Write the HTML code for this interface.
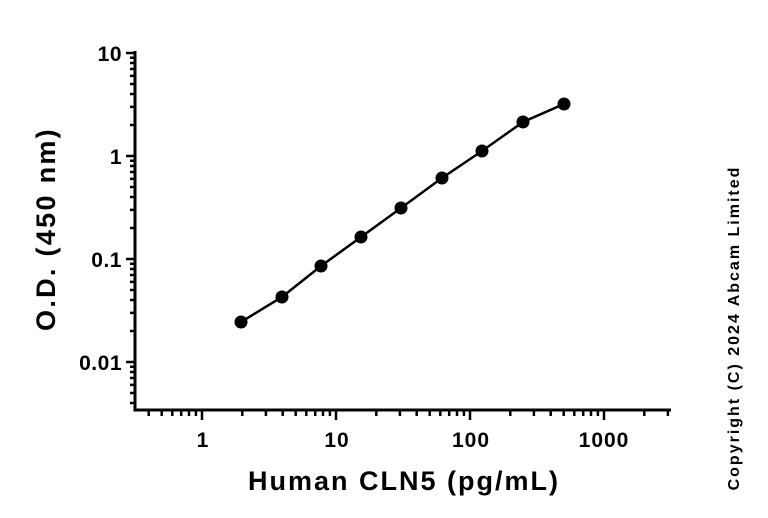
<!DOCTYPE html>
<html><head><meta charset="utf-8"><style>html,body{margin:0;padding:0;background:#fff}svg{display:block}text{font-family:"Liberation Sans",Arial,sans-serif;font-weight:bold;fill:#000}</style></head>
<body>
<svg width="768" height="518" viewBox="0 0 768 518" xmlns="http://www.w3.org/2000/svg">
<g stroke="#000" stroke-width="3" fill="none">
<path d="M135 51 V411 M133.5 410 H671"/>
</g>
<g stroke="#000" stroke-width="2.5">
<path d="M126 53H135M126 156H135M126 259H135M126 362H135"/>
<path d="M130 125H135M130 106.9H135M130 94H135M130 84H135M130 75.9H135M130 69H135M130 63H135M130 57.7H135
M130 228H135M130 209.9H135M130 197H135M130 187H135M130 178.9H135M130 172H135M130 166H135M130 160.7H135
M130 331H135M130 312.9H135M130 300H135M130 290H135M130 281.9H135M130 275H135M130 269H135M130 263.7H135
M130 403H135M130 393H135M130 384.9H135M130 378H135M130 372H135M130 366.7H135"/>
<path d="M202 410V420M336 410V420M470 410V420M604 410V420"/>
<path d="M148.7 410V416M161.7 410V416M172.3 410V416M181.2 410V416M189 410V416M195.9 410V416
M242.3 410V416M265.9 410V416M282.7 410V416M295.7 410V416M306.3 410V416M315.2 410V416M323 410V416M329.9 410V416
M376.3 410V416M399.9 410V416M416.7 410V416M429.7 410V416M440.3 410V416M449.2 410V416M457 410V416M463.9 410V416
M510.3 410V416M533.9 410V416M550.7 410V416M563.7 410V416M574.3 410V416M583.2 410V416M591 410V416M597.9 410V416
M644.3 410V416M667.9 410V416"/>
</g>
<polyline fill="none" stroke="#000" stroke-width="2.5" points="241,322 282,297 321,266 361,237 401,208 442,178 482,151 523,122 564,104"/>
<g fill="#000">
<circle cx="241" cy="322" r="6.5"/><circle cx="282" cy="297" r="6.5"/><circle cx="321" cy="266" r="6.5"/>
<circle cx="361" cy="237" r="6.5"/><circle cx="401" cy="208" r="6.5"/><circle cx="442" cy="178" r="6.5"/>
<circle cx="482" cy="151" r="6.5"/><circle cx="523" cy="122" r="6.5"/><circle cx="564" cy="104" r="6.5"/>
</g>
<g font-size="21" text-anchor="end" letter-spacing="0.5">
<text x="122" y="61">10</text>
<text x="122" y="164">1</text>
<text x="122" y="267">0.1</text>
<text x="122" y="370">0.01</text>
</g>
<g font-size="21" text-anchor="middle" letter-spacing="1">
<text x="203" y="447">1</text>
<text x="337" y="447">10</text>
<text x="471" y="447">100</text>
<text x="604" y="447">1000</text>
</g>
<text x="404" y="490" font-size="27" letter-spacing="2" text-anchor="middle">Human CLN5 (pg/mL)</text>
<text transform="translate(55,229) rotate(-90)" font-size="27" letter-spacing="2.3" text-anchor="middle">O.D. (450 nm)</text>
<text transform="translate(739,328) rotate(-90)" font-size="16" letter-spacing="2" text-anchor="middle">Copyright (C) 2024 Abcam Limited</text>
</svg>
</body></html>
